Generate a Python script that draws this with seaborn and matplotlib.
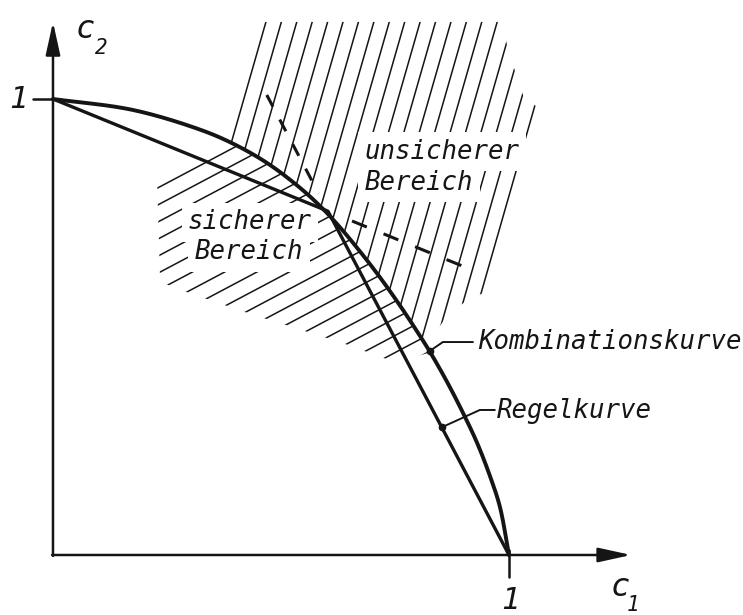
import numpy as np
import matplotlib
matplotlib.use("Agg")
import matplotlib.pyplot as plt
from matplotlib.collections import LineCollection
from matplotlib.patches import Polygon
import seaborn as sns

# Kombinationskurve (c1, c2)
komb_c1 = [0, 0.175, 0.322, 0.395, 0.469, 0.542, 0.592, 0.629, 0.673, 0.717, 0.761,
           0.798, 0.827, 0.864, 0.899, 0.930, 0.958, 0.980, 1.0]
komb_c2 = [1, 0.976, 0.933, 0.902, 0.860, 0.805, 0.759, 0.719, 0.666, 0.609, 0.547,
           0.491, 0.445, 0.380, 0.312, 0.246, 0.174, 0.106, 0]

# Regelkurve: two straight pieces meeting in the kink
regel_c1 = [0, 0.603, 1.0]
regel_c2 = [1, 0.754, 0]

# outer outlines of the hatched areas (the Kombinationskurve closes them)
unsicher_c1 = [0.458, 0.985, 0.998, 1.033, 1.066, 0.958, 0.910, 0.868, 0.831]
unsicher_c2 = [1.169, 1.169, 1.107, 1.002, 0.980, 0.581, 0.559, 0.531, 0.476]
sicher_c1 = [0.830, 0.750, 0.629, 0.432, 0.292, 0.235, 0.228, 0.401]
sicher_c2 = [0.445, 0.423, 0.467, 0.529, 0.577, 0.599, 0.831, 0.914]

# where the leader lines touch the curves (c2 value)
komb_mark = 0.447
regel_mark = 0.280

sns.set_theme(style="white")
plt.rcParams["font.family"] = ["DejaVu Sans Mono", "DejaVu Sans"]
plt.rcParams["lines.scale_dashes"] = False

ink = "#151515"


def catmull(xs, ys, n=40):
    P = np.column_stack([xs, ys]).astype(float)
    P = np.vstack([2 * P[0] - P[1], P, 2 * P[-1] - P[-2]])
    out = []
    for i in range(1, len(P) - 2):
        p0, p1, p2, p3 = P[i - 1], P[i], P[i + 1], P[i + 2]
        t0 = 0.0
        t1 = t0 + np.linalg.norm(p1 - p0) ** 0.5
        t2 = t1 + np.linalg.norm(p2 - p1) ** 0.5
        t3 = t2 + np.linalg.norm(p3 - p2) ** 0.5
        t = np.linspace(t1, t2, n, endpoint=False)[:, None]
        a1 = (t1 - t) / (t1 - t0) * p0 + (t - t0) / (t1 - t0) * p1
        a2 = (t2 - t) / (t2 - t1) * p1 + (t - t1) / (t2 - t1) * p2
        a3 = (t3 - t) / (t3 - t2) * p2 + (t - t2) / (t3 - t2) * p3
        b1 = (t2 - t) / (t2 - t0) * a1 + (t - t0) / (t2 - t0) * a2
        b2 = (t3 - t) / (t3 - t1) * a2 + (t - t1) / (t3 - t1) * a3
        out.append((t2 - t) / (t2 - t1) * b1 + (t - t1) / (t2 - t1) * b2)
    out.append(P[-2][None])
    return np.vstack(out)


def hatch(ax, outline, anchor, angle, spacing):
    u = np.array([np.cos(np.radians(angle)), np.sin(np.radians(angle))])
    nrm = np.array([-u[1], u[0]])
    segs = []
    for k in range(-60, 61):
        c = np.asarray(anchor) + k * spacing * nrm
        segs.append([c - 2 * u, c + 2 * u])
    lc = LineCollection(segs, colors=ink, linewidths=1.1, zorder=1)
    ax.add_collection(lc, autolim=False)
    lc.set_clip_path(Polygon(outline, closed=True, transform=ax.transData))


komb = catmull(komb_c1, komb_c2)

fig = plt.figure(figsize=(7.43, 6.15), dpi=100)
ax = fig.add_axes([0, 0, 1, 1])

# hatching
upper = komb[(komb[:, 0] >= 0.385) & (komb[:, 0] <= 0.815)][::-1]
poly_u = np.vstack([np.column_stack([unsicher_c1, unsicher_c2]), upper])
hatch(ax, poly_u, (0.467, 1.169), 74, 0.0325)

lower = komb[(komb[:, 0] >= 0.401) & (komb[:, 0] <= 0.822)]
poly_s = np.vstack([lower, np.column_stack([sicher_c1, sicher_c2])])
hatch(ax, poly_s, (0.241, 0.811), 27.9, 0.0331)

# curves
sns.lineplot(x=komb[:, 0], y=komb[:, 1], sort=False, estimator=None, color=ink,
             lw=2.8, ax=ax, zorder=4)
sns.lineplot(x=regel_c1, y=regel_c2, sort=False, estimator=None, color=ink,
             lw=2.4, ax=ax, zorder=4)

# dashed prolongations of the two Regelkurve pieces
kink = np.array([regel_c1[1], regel_c2[1]])
d1 = kink - np.array([regel_c1[2], regel_c2[2]])
d1 = d1 / np.linalg.norm(d1)
d2 = kink - np.array([regel_c1[0], regel_c2[0]])
d2 = d2 / np.linalg.norm(d2)
e1 = np.array([kink + d1 * 0.288, kink + d1 * 0.044])
e2 = np.array([kink + d2 * 0.057, kink + d2 * 0.316])
ax.plot(e1[:, 0], e1[:, 1], color=ink, lw=2.2, dashes=(9.5, 10.5), zorder=4)
ax.plot(e2[:, 0], e2[:, 1], color=ink, lw=2.2, dashes=(11.5, 13), zorder=4)

# axes with arrows
arr = dict(arrowstyle="-|>,head_length=1.0,head_width=0.22", lw=1.8, color=ink,
           shrinkA=0, shrinkB=0, mutation_scale=20)
ax.annotate("", xy=(0, 1.169), xytext=(0, -0.002), arrowprops=arr, zorder=5)
ax.annotate("", xy=(1.268, 0), xytext=(-0.002, 0), arrowprops=arr, zorder=5)
ax.plot([1, 1], [0.012, -0.048], color=ink, lw=1.8, zorder=5)
ax.plot([-0.044, 0], [1, 1], color=ink, lw=1.8, zorder=5)

tx = dict(style="italic", fontsize=18.5, color=ink)
ax.text(-0.077, 0.998, "1", ha="center", va="center", **dict(tx, fontsize=22))
ax.text(1.004, -0.099, "1", ha="center", va="center", **dict(tx, fontsize=22))
ax.text(0.070, 1.152, "c", ha="center", va="center", **dict(tx, fontsize=23))
ax.text(0.106, 1.112, "2", ha="center", va="center", **dict(tx, fontsize=15))
ax.text(1.243, -0.072, "c", ha="center", va="center", **dict(tx, fontsize=23))
ax.text(1.272, -0.110, "1", ha="center", va="center", **dict(tx, fontsize=15))

box = dict(boxstyle="square,pad=0.25", fc="white", ec="none")
ax.text(0.684, 0.884, "unsicherer", ha="left", va="center", bbox=box, zorder=2, **tx)
ax.text(0.684, 0.816, "Bereich", ha="left", va="center", bbox=box, zorder=2, **tx)
ax.text(0.296, 0.730, "sicherer", ha="left", va="center", bbox=box, zorder=2, **tx)
ax.text(0.311, 0.664, "Bereich", ha="left", va="center", bbox=box, zorder=2, **tx)

# leader lines to the labels
kx = np.interp(komb_mark, komb[::-1, 1], komb[::-1, 0])
rx = np.interp(regel_mark, regel_c2[::-1], regel_c1[::-1])
ax.plot([kx, 0.855, 0.921], [komb_mark, 0.467, 0.467], color=ink, lw=1.4, zorder=5)
ax.plot([kx], [komb_mark], "o", ms=4.5, color=ink, zorder=6)
ax.plot([rx, 0.936, 0.969], [regel_mark, 0.318, 0.318], color=ink, lw=1.4, zorder=5)
ax.plot([rx], [regel_mark], "o", ms=4.5, color=ink, zorder=6)
ax.text(0.932, 0.467, "Kombinationskurve", ha="left", va="center", **tx)
ax.text(0.974, 0.316, "Regelkurve", ha="left", va="center", **tx)

ax.set_xlim(-0.1162, 1.5132)
ax.set_ylim(-0.1316, 1.2171)
ax.axis("off")

fig.savefig("out.png", dpi=100)
